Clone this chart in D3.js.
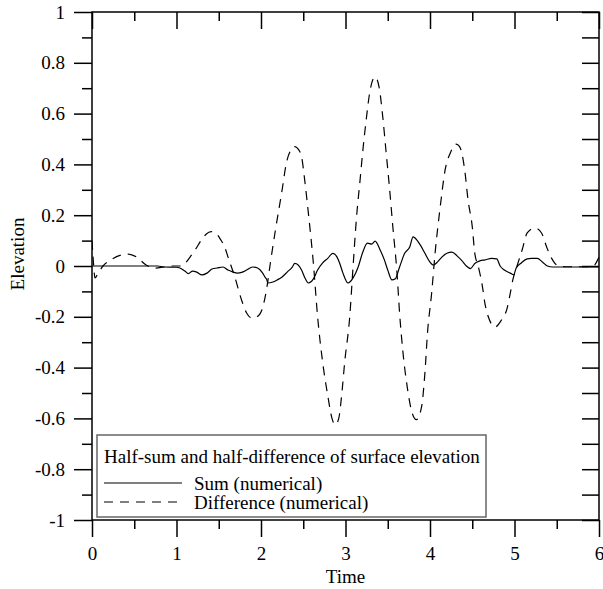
<!DOCTYPE html>
<html><head><meta charset="utf-8">
<script src="https://cdn.jsdelivr.net/npm/d3@7"></script>
<style>
html,body{margin:0;padding:0;background:#fff;}
svg text{font-family:"Liberation Serif","Times New Roman",serif !important;fill:#000;}
</style></head>
<body>
<svg id="chart" width="603" height="589"></svg>
<script>
// ---- data ----
const diffTime = [0.00,0.02,0.035,0.07,0.13,0.225,0.33,0.43,0.53,0.64,0.75,0.85,0.95,1.04,1.10,1.16,1.22,1.29,1.35,1.41,1.47,1.52,1.57,1.61,1.69,1.77,1.83,1.89,1.95,2.01,2.07,2.11,2.17,2.25,2.30,2.35,2.40,2.44,2.48,2.52,2.56,2.62,2.67,2.73,2.79,2.84,2.88,2.92,2.96,2.99,3.05,3.09,3.13,3.17,3.21,3.25,3.29,3.35,3.40,3.44,3.48,3.52,3.56,3.61,3.64,3.68,3.73,3.79,3.84,3.90,3.94,3.97,4.02,4.06,4.12,4.18,4.24,4.31,4.35,4.41,4.45,4.50,4.53,4.57,4.62,4.65,4.69,4.77,4.85,4.91,4.95,4.98,5.03,5.09,5.15,5.24,5.32,5.38,5.44,5.50,5.60,5.80,5.93,6.00];
const diffValue = [0.10,0.00,-0.047,-0.03,0.00,0.024,0.042,0.047,0.035,0.004,-0.008,-0.004,0.0,0.0,0.01,0.035,0.063,0.10,0.125,0.135,0.128,0.105,0.075,0.035,-0.043,-0.134,-0.185,-0.205,-0.20,-0.173,-0.083,0.01,0.14,0.30,0.405,0.455,0.47,0.46,0.43,0.33,0.21,0.01,-0.20,-0.38,-0.51,-0.60,-0.625,-0.60,-0.49,-0.38,-0.20,0.0,0.19,0.33,0.47,0.59,0.69,0.745,0.70,0.59,0.45,0.31,0.155,-0.03,-0.185,-0.34,-0.475,-0.58,-0.605,-0.555,-0.42,-0.265,-0.105,0.05,0.23,0.38,0.445,0.48,0.47,0.38,0.26,0.155,0.05,0.0,-0.08,-0.147,-0.20,-0.24,-0.21,-0.17,-0.107,-0.055,0.0,0.063,0.13,0.15,0.13,0.075,0.03,0.004,-0.003,-0.003,0.0,0.035];

const sumTime = [0,0.5,0.78,0.85,1.0,1.04,1.10,1.14,1.19,1.24,1.30,1.36,1.42,1.48,1.55,1.61,1.67,1.72,1.78,1.83,1.90,1.96,2.02,2.05,2.07,2.08,2.14,2.19,2.25,2.31,2.37,2.40,2.44,2.48,2.52,2.56,2.62,2.67,2.73,2.79,2.85,2.90,2.93,2.97,3.03,3.09,3.15,3.20,3.26,3.31,3.35,3.41,3.46,3.50,3.55,3.59,3.64,3.70,3.76,3.80,3.85,3.89,3.94,3.99,4.04,4.09,4.14,4.20,4.26,4.32,4.38,4.43,4.48,4.53,4.59,4.65,4.73,4.79,4.83,4.88,4.95,4.99,5.02,5.08,5.15,5.20,5.27,5.33,5.39,5.45,5.50,6.00];
const sumValue = [0,0,0,-0.004,-0.005,-0.008,-0.02,-0.03,-0.02,-0.024,-0.035,-0.028,-0.012,-0.008,-0.004,-0.016,-0.024,-0.028,-0.024,-0.016,-0.004,-0.008,-0.028,-0.045,-0.055,-0.067,-0.063,-0.055,-0.043,-0.024,-0.004,0.01,0.004,-0.016,-0.047,-0.067,-0.051,-0.016,0.012,0.03,0.05,0.035,0.012,-0.028,-0.067,-0.047,-0.004,0.05,0.09,0.086,0.098,0.063,0.024,-0.016,-0.055,-0.05,-0.004,0.05,0.075,0.115,0.10,0.08,0.05,0.02,0.004,0.016,0.035,0.05,0.055,0.04,0.02,0.0,-0.01,0.01,0.02,0.024,0.03,0.028,0.0,-0.016,-0.028,-0.035,-0.008,0.012,0.028,0.03,0.03,0.016,0.0,-0.004,-0.004,-0.004];

const xTicks = [0,1,2,3,4,5,6];
const xTickLabels = ["0","1","2","3","4","5","6"];
const yTicks = [1,0.8,0.6,0.4,0.2,0,-0.2,-0.4,-0.6,-0.8,-1];
const yTickLabels = ["1","0.8","0.6","0.4","0.2","0","-0.2","-0.4","-0.6","-0.8","-1"];
const legendTitle = "Half-sum and half-difference of surface elevation";
const seriesNames = ["Sum (numerical)","Difference (numerical)"];
const xLabel = "Time", yLabel = "Elevation";

// ---- layout ----
const L = 92, R = 599, T = 12, B = 520;
const FONT = "'Liberation Serif','Times New Roman',serif";
const fs = 19;
const svg = d3.select("#chart");
const x = d3.scaleLinear().domain([0,6]).range([L,R]);
const y = d3.scaleLinear().domain([-1,1]).range([B,T]);

svg.append("clipPath").attr("id","clip").append("rect")
  .attr("x",L).attr("y",T).attr("width",R-L).attr("height",B-T);

const g = svg.append("g").attr("clip-path","url(#clip)");
const line = d3.line().x(d=>x(d[0])).y(d=>y(d[1])).curve(d3.curveMonotoneX);
const diffData = diffTime.map((t,i)=>[t,diffValue[i]]);
const sumData = sumTime.map((t,i)=>[t,sumValue[i]]);

g.append("path").datum(sumData).attr("d",line)
  .attr("fill","none").attr("stroke","#000").attr("stroke-width",1.2);
g.append("path").datum(diffData).attr("d",line)
  .attr("fill","none").attr("stroke","#000").attr("stroke-width",1.2)
  .attr("stroke-dasharray","9,7");

const minorX = d3.range(0,6.01,0.5).filter(v=>Math.abs(v-Math.round(v))>1e-6);
const minorY = d3.range(-0.9,0.91,0.2).map(v=>+v.toFixed(2));

const axB = d3.axisBottom(x).tickValues(xTicks).tickFormat((d,i)=>xTickLabels[i]).tickSize(17).tickPadding(10);
const axBm = d3.axisBottom(x).tickValues(minorX).tickFormat("").tickSize(9);
const axT = d3.axisBottom(x).tickValues(xTicks).tickFormat("").tickSize(17);
const axTm = d3.axisBottom(x).tickValues(minorX).tickFormat("").tickSize(9);
const axL = d3.axisLeft(y).tickValues(yTicks).tickFormat((d,i)=>yTickLabels[i]).tickSize(18).tickPadding(9);
const axLm = d3.axisLeft(y).tickValues(minorY).tickFormat("").tickSize(10);
const axR = d3.axisLeft(y).tickValues(yTicks.concat(minorY)).tickFormat("").tickSize(17);

function style(sel){
  sel.attr("font-family",FONT).attr("font-size",fs);
  sel.selectAll(".domain").remove();
  sel.selectAll("line").attr("stroke","#000").attr("stroke-width",1.5);
  sel.selectAll("text").attr("fill","#000");
}
svg.append("g").attr("transform",`translate(0,${B})`).call(axB).call(style);
svg.append("g").attr("transform",`translate(0,${B})`).call(axBm).call(style);
svg.append("g").attr("transform",`translate(0,${T})`).call(axT).call(style);
svg.append("g").attr("transform",`translate(0,${T})`).call(axTm).call(style);
svg.append("g").attr("transform",`translate(${L},0)`).call(axL).call(style);
svg.append("g").attr("transform",`translate(${L},0)`).call(axLm).call(style);
svg.append("g").attr("transform",`translate(${R},0)`).call(axR).call(style);

svg.append("rect").attr("x",L).attr("y",T).attr("width",R-L).attr("height",B-T)
  .attr("fill","none").attr("stroke","#000").attr("stroke-width",1.5);

svg.append("text").attr("x",(L+R)/2).attr("y",583).attr("text-anchor","middle")
  .attr("font-family",FONT).attr("font-size",fs).text(xLabel);
svg.append("text").attr("transform","translate(24,254) rotate(-90)").attr("text-anchor","middle")
  .attr("font-family",FONT).attr("font-size",fs).text(yLabel);

const lg = svg.append("g").attr("font-family",FONT).attr("font-size",fs);
lg.append("rect").attr("x",97).attr("y",435).attr("width",389).attr("height",82)
  .attr("fill","#fff").attr("stroke","#666").attr("stroke-width",1.5);
lg.append("text").attr("x",104).attr("y",463).text(legendTitle);
lg.append("line").attr("x1",104).attr("x2",182).attr("y1",483).attr("y2",483)
  .attr("stroke","#000").attr("stroke-width",1.2);
lg.append("text").attr("x",194).attr("y",490).text(seriesNames[0]);
lg.append("line").attr("x1",104).attr("x2",182).attr("y1",502).attr("y2",502)
  .attr("stroke","#000").attr("stroke-width",1.2).attr("stroke-dasharray","9,7");
lg.append("text").attr("x",194).attr("y",509).text(seriesNames[1]);
</script>
</body></html>
